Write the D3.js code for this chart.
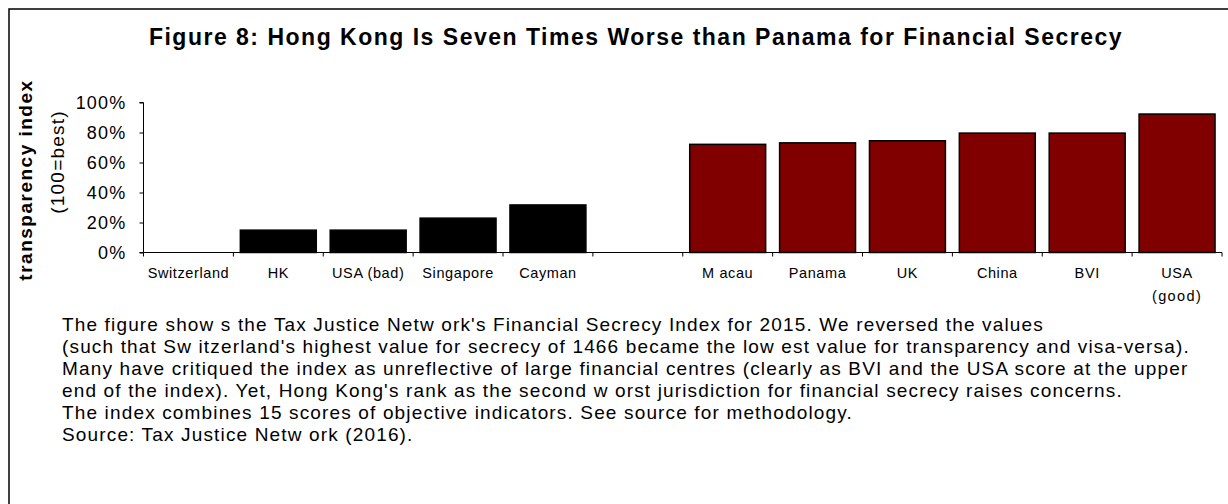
<!DOCTYPE html>
<html>
<head>
<meta charset="utf-8">
<script src="https://cdn.jsdelivr.net/npm/d3@7"></script>
<style>
  html, body { margin: 0; padding: 0; background: #fff; }
  text { font-family: Arial, "Liberation Sans", sans-serif; fill: #000; }
</style>
</head>
<body>
<script>
// values (transparency index, % of best)
const categories = ["Switzerland", "HK", "USA (bad)", "Singapore", "Cayman", "",
                    "M acau", "Panama", "UK", "China", "BVI", "USA\n(good)"];
const values = [0, 14.9, 14.9, 22.9, 31.7, null, 72.1, 73.1, 74.5, 79.6, 79.6, 92.3];
const groups = ["bad", "bad", "bad", "bad", "bad", null, "good", "good", "good", "good", "good", "good"];
const yTicks = [0, 20, 40, 60, 80, 100];

const title = "Figure 8: Hong Kong Is Seven Times Worse than Panama for Financial Secrecy";
const notes = [
  "The figure show s the Tax Justice Netw ork's Financial Secrecy Index for 2015. We reversed the values",
  "(such that Sw itzerland's highest value for secrecy of 1466 became the low est value for transparency and visa-versa).",
  "Many have critiqued the index as unreflective of large financial centres (clearly as BVI and the USA score at the upper",
  "end of the index). Yet, Hong Kong's rank as the second w orst jurisdiction for financial secrecy raises concerns.",
  "The index combines 15 scores of objective indicators. See source for methodology.",
  "Source: Tax Justice Netw ork (2016)."
];

const width = 1228, height = 504;
const svg = d3.select("body").append("svg")
    .attr("width", width)
    .attr("height", height);

// frame: only the top and left edges are visible in the picture
svg.append("path")
    .attr("d", `M9,${height} V9 H${width}`)
    .attr("fill", "none")
    .attr("stroke", "#000")
    .attr("stroke-width", 1.5);

svg.append("text")
    .attr("x", 636)
    .attr("y", 45)
    .attr("text-anchor", "middle")
    .attr("font-size", 23)
    .attr("letter-spacing", 1.5)
    .attr("font-weight", "bold")
    .text(title);

const plot = {left: 143.5, right: 1222, top: 102.5, bottom: 252.5};

const x = d3.scaleBand()
    .domain(d3.range(categories.length))
    .range([plot.left, plot.right])
    .paddingInner(0.155)
    .paddingOuter(0.0775);

const y = d3.scaleLinear()
    .domain([0, 100])
    .range([plot.bottom, plot.top]);

const mainG = svg.append("g");

// bars
mainG.append("g")
    .selectAll("rect")
    .data(values.map((v, i) => ({v, i})).filter(d => d.v !== null))
    .enter()
    .append("rect")
    .attr("x", d => x(d.i))
    .attr("y", d => y(d.v))
    .attr("width", x.bandwidth())
    .attr("height", d => y(0) - y(d.v))
    .attr("fill", d => groups[d.i] === "good" ? "#800000" : "#000")
    .attr("stroke", "#000")
    .attr("stroke-width", d => d.v > 0 ? 1.5 : 0);

// y axis
const yAxis = d3.axisLeft(y)
    .tickValues(yTicks)
    .tickFormat(d => d + "%")
    .tickSize(4)
    .tickPadding(13);
const yG = mainG.append("g")
    .attr("transform", `translate(${plot.left},0)`)
    .call(yAxis);
yG.select(".domain").attr("d", `M-4,${plot.top}H0V${plot.bottom}H-4`);
yG.selectAll("text")
    .attr("font-size", 18)
    .attr("letter-spacing", 1.2)
    .attr("font-family", "Arial, 'Liberation Sans', sans-serif")
    .attr("dy", "0.36em");

// x axis: ticks sit between the categories, Excel style
const step = x.step();
const xBounds = d3.range(categories.length + 1).map(i => plot.left + i * step);
const xG = mainG.append("g");
xG.append("line")
    .attr("x1", plot.left).attr("x2", plot.right)
    .attr("y1", plot.bottom).attr("y2", plot.bottom)
    .attr("stroke", "#000");
xG.selectAll(".tick")
    .data(xBounds)
    .enter()
    .append("line")
    .attr("x1", d => d).attr("x2", d => d)
    .attr("y1", plot.bottom).attr("y2", plot.bottom + 4)
    .attr("stroke", "#000");
const xLabels = xG.selectAll(".xlabel")
    .data(categories)
    .enter()
    .append("text")
    .attr("text-anchor", "middle")
    .attr("font-size", 14.5)
    .attr("letter-spacing", 0.6)
    .attr("transform", (d, i) => `translate(${x(i) + x.bandwidth() / 2},${plot.bottom + 25.5})`);
xLabels.selectAll("tspan")
    .data(d => d.split("\n"))
    .enter()
    .append("tspan")
    .attr("x", 0)
    .attr("dy", (d, i) => i === 0 ? 0 : 23)
    .attr("letter-spacing", d => d === "(good)" ? 1.4 : null)
    .text(d => d);

// y axis titles
svg.append("text")
    .attr("transform", "translate(32,180) rotate(-90)")
    .attr("text-anchor", "middle")
    .attr("font-size", 19)
    .attr("letter-spacing", 1.5)
    .attr("font-weight", "bold")
    .text("transparency index");
svg.append("text")
    .attr("transform", "translate(64,162) rotate(-90)")
    .attr("text-anchor", "middle")
    .attr("font-size", 19)
    .attr("letter-spacing", 1.2)
    .text("(100=best)");

// note text
svg.append("g")
    .selectAll("text")
    .data(notes)
    .enter()
    .append("text")
    .attr("x", 62)
    .attr("y", (d, i) => 331 + i * 22)
    .attr("font-size", 19)
    .attr("letter-spacing", 1.15)
    .text(d => d);
</script>
</body>
</html>
